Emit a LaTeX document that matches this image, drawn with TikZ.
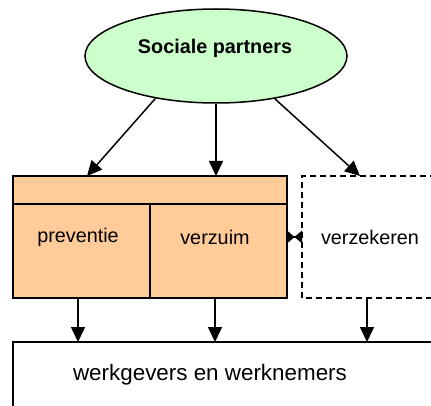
\documentclass[tikz,border=0pt]{standalone}
\usepackage{fontspec}
\setmainfont{Liberation Sans}
\usetikzlibrary{arrows.meta,shapes.geometric,calc}
\definecolor{lightgreen}{HTML}{CCFFCC}
\definecolor{peach}{HTML}{FFCC99}
\tikzset{
  lbl/.style={font=\fontsize{19.8}{22}\selectfont, inner sep=0pt},
  bigl/.style={font=\fontsize{22.4}{25}\selectfont, inner sep=0pt},
  boxline/.style={draw=black, line width=1.5pt},
  arr/.style={line width=1.5pt, -{Triangle[length=15pt,width=14pt]}},
}
\begin{document}
\begin{tikzpicture}[x=1pt,y=1pt]
\useasboundingbox (0,0) rectangle (431,405);
\clip (0,0) rectangle (431,405);
% ellipse
\node[ellipse, boxline, fill=lightgreen, minimum width=262pt, minimum height=94pt, inner sep=0pt] (sp) at (216,349) {};
\node[font=\bfseries\fontsize{19.8}{22}\selectfont, inner sep=0pt] (sptext) at (215,357) {Sociale partners};
% orange block
\draw[boxline, fill=peach] (13,201) rectangle (287,229) node[pos=0.5, inner sep=0pt] (strip) {};
\draw[boxline, fill=peach] (13,107) rectangle (150,201) node[pos=0.5, inner sep=0pt] (pvbox) {};
\draw[boxline, fill=peach] (150,107) rectangle (287,201) node[pos=0.5, inner sep=0pt] (vzbox) {};
\node[lbl] (pv) at (78,168) {preventie};
\node[lbl] (vz) at (215,168) {verzuim};
% dashed
\draw[line width=1.5pt, dash pattern=on 6pt off 4pt] (302,107) rectangle (445,229);
\node[lbl] (vk) at (370,168) {verzekeren};
% bottom
\draw[boxline] (13,-10) rectangle (445,63);
\node[bigl] (wg) at (210,30) {werkgevers en werknemers};
% coordinates
\coordinate (t1) at (87,229);
\coordinate (t2) at (216,229);
\coordinate (t3) at (360,229);
\coordinate (b1s) at (78,107);
\coordinate (b2s) at (215,107);
\coordinate (b3s) at (367,107);
\coordinate (b1e) at (78,63);
\coordinate (b2e) at (215,63);
\coordinate (b3e) at (367,63);
\coordinate (bl) at (287,168);
\coordinate (br) at (302,168);
% arrows
\draw[arr] (sp.215) -- (t1);
\draw[arr] (sp.south) -- (t2);
\draw[arr] (sp.324) -- (t3);
\draw[arr] (b1s) -- (b1e);
\draw[arr] (b2s) -- (b2e);
\draw[arr] (b3s) -- (b3e);
% bowtie connector
\draw[line width=1.5pt] (bl) -- (br);
\fill ([yshift=6.5pt]bl) -- ($(bl)!0.5!(br)$) -- ([yshift=-6.5pt]bl) -- cycle;
\fill ([yshift=6.5pt]br) -- ($(bl)!0.5!(br)$) -- ([yshift=-6.5pt]br) -- cycle;
\end{tikzpicture}
\end{document}
